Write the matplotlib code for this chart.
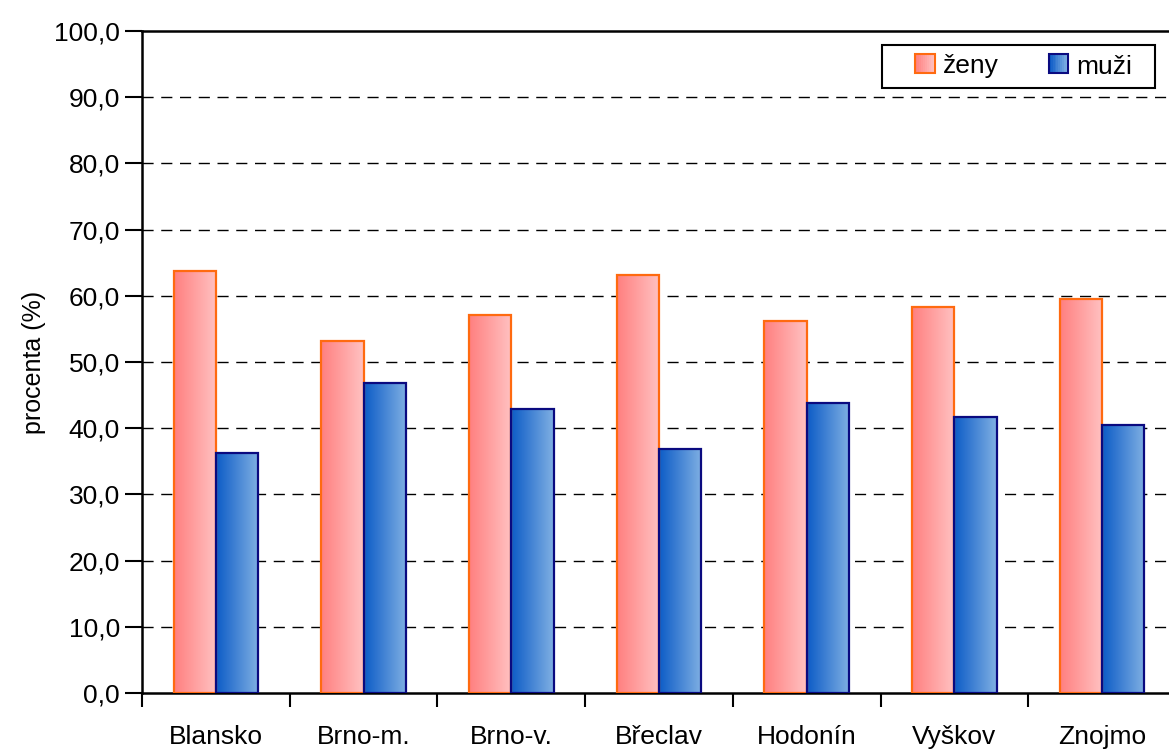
import numpy as np
import matplotlib
matplotlib.use('Agg')
import matplotlib.pyplot as plt
from matplotlib import font_manager
from matplotlib.patches import Rectangle
from matplotlib.legend_handler import HandlerBase
from matplotlib.ticker import FixedLocator, FuncFormatter

okresy = ['Blansko', 'Brno-m.', 'Brno-v.', 'Břeclav', 'Hodonín', 'Vyškov', 'Znojmo']
zeny = [63.7, 53.2, 57.1, 63.1, 56.2, 58.3, 59.5]
muzi = [36.3, 46.8, 42.9, 36.9, 43.8, 41.7, 40.5]

names = {f.name for f in font_manager.fontManager.ttflist}
fam = 'Liberation Sans Narrow' if 'Liberation Sans Narrow' in names else 'Liberation Sans'
plt.rcParams['font.family'] = [fam, 'DejaVu Sans']

PINK = [(1.0, 0.50, 0.50), (1.0, 0.76, 0.76)]
BLUE = [(0.05, 0.36, 0.78), (0.50, 0.69, 0.89)]


def gradient(c0, c1, n=64):
    t = np.linspace(0, 1, n)[None, :, None]
    return np.array(c0)[None, None, :] * (1 - t) + np.array(c1)[None, None, :] * t


class GradHandler(HandlerBase):
    def __init__(self, cols, edge):
        super().__init__()
        self.cols = cols
        self.edge = edge

    def create_artists(self, legend, orig, xd, yd, w, h, fs, trans):
        arts = []
        n = 10
        for k in range(n):
            t = k / (n - 1)
            c = tuple(self.cols[0][j] * (1 - t) + self.cols[1][j] * t for j in range(3))
            arts.append(Rectangle((xd + w * k / n, yd), w / n + 0.3, h, facecolor=c,
                                  edgecolor='none', transform=trans))
        arts.append(Rectangle((xd, yd), w, h, facecolor='none', edgecolor=self.edge,
                              lw=1.5, transform=trans))
        return arts


fig = plt.figure(figsize=(11.69, 7.56), dpi=100)
ax = fig.add_axes([142 / 1169, 1 - 693 / 756, (1176 - 142) / 1169, (693 - 31) / 756])

x = np.arange(len(okresy))
w = 0.286
b1 = ax.bar(x - w / 2, zeny, w, facecolor='none', edgecolor='#FF6A10', lw=1.6, zorder=4)
b2 = ax.bar(x + w / 2, muzi, w, facecolor='none', edgecolor='#0A0A80', lw=1.6, zorder=4)

for bars, cols in ((b1, PINK), (b2, BLUE)):
    for p in bars:
        x0, y0 = p.get_x(), p.get_y()
        ax.imshow(gradient(*cols), extent=(x0, x0 + p.get_width(), y0, y0 + p.get_height()),
                  aspect='auto', zorder=3, interpolation='bilinear')

ax.set_xlim(-0.5, len(okresy) - 0.5)
ax.set_ylim(0, 100)

ax.yaxis.set_major_locator(FixedLocator(np.arange(0, 101, 10)))
ax.yaxis.set_major_formatter(FuncFormatter(lambda v, p: f'{v:.1f}'.replace('.', ',')))
ax.tick_params(axis='y', length=12, width=1.5, labelsize=19, pad=4)
for yv in np.arange(10, 100, 10):
    ax.axhline(yv, color='black', lw=1.0, ls=(0, (8, 5.5)), zorder=1)

ax.set_xticks(np.arange(-0.5, len(okresy), 1))
ax.set_xticklabels([])
ax.set_xticks(x, minor=True)
ax.set_xticklabels(okresy, minor=True, fontsize=19)
ax.tick_params(axis='x', which='major', length=10, width=1.5)
ax.tick_params(axis='x', which='minor', length=0, pad=23)

for s in ('left', 'bottom', 'top'):
    ax.spines[s].set_linewidth(1.8)
ax.spines['right'].set_visible(False)

ax.set_ylabel('procenta (%)', fontsize=18, labelpad=6)

# legend frame drawn by hand (Excel-style padding)
fig.patches.append(Rectangle((882 / 1169, 1 - 88 / 756), 273 / 1169, 43 / 756,
                             transform=fig.transFigure, facecolor='white',
                             edgecolor='black', lw=1.5, zorder=9))
leg = fig.legend([b1, b2], ['ženy', 'muži'], ncol=2, loc='center',
                 bbox_to_anchor=((882 + 1155) / 2 / 1169 + 5 / 1169, 1 - 66.5 / 756),
                 fontsize=19, frameon=False,
                 handlelength=0.75, handleheight=0.75, handletextpad=0.3,
                 columnspacing=1.9, borderpad=0,
                 handler_map={b1: GradHandler(PINK, '#FF6A10'), b2: GradHandler(BLUE, '#0A0A80')})
leg.set_zorder(10)

fig.savefig('out.png', dpi=100)
